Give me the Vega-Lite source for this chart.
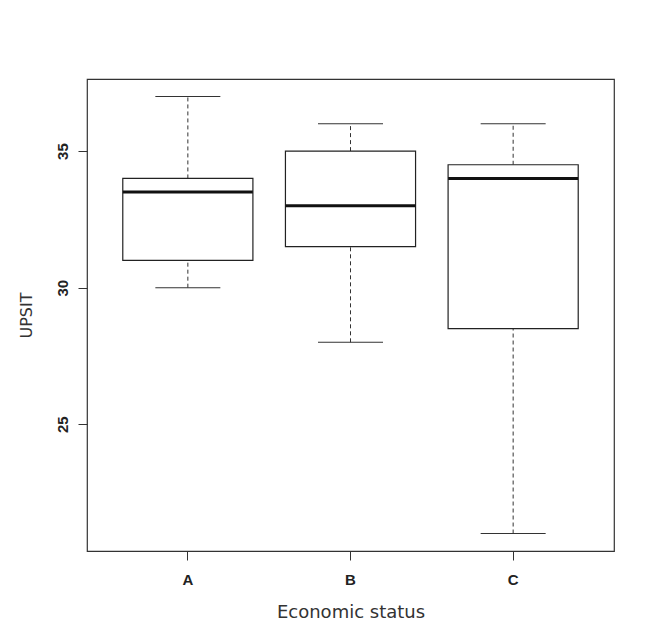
{
  "$schema": "https://vega.github.io/schema/vega-lite/v6.json",
  "autosize": "none",
  "width": 527,
  "height": 472,
  "padding": {"left": 87, "top": 79, "right": 58, "bottom": 86},
  "background": "white",
  "config": {
    "view": {"stroke": "#333", "strokeWidth": 1.2},
    "axis": {"grid": false, "domain": false, "tickColor": "#333", "tickSize": 9, "labelFont": "Liberation Sans", "labelFontWeight": "bold", "labelFontSize": 15, "labelColor": "#222", "titleFont": "DejaVu Sans", "titleFontWeight": "normal", "titleColor": "#333"}
  },
  "data": {
    "values": [
      {"status": "A", "lower": 30, "q1": 31, "median": 33.5, "q3": 34, "upper": 37},
      {"status": "B", "lower": 28, "q1": 31.5, "median": 33, "q3": 35, "upper": 36},
      {"status": "C", "lower": 21, "q1": 28.5, "median": 34, "q3": 34.5, "upper": 36}
    ]
  },
  "encoding": {
    "x": {
      "field": "status", "type": "nominal",
      "scale": {"paddingInner": 0.2, "paddingOuter": 0.22},
      "axis": {"title": "Economic status", "labelAngle": 0, "labelPadding": 12, "titlePadding": 16, "titleFontSize": 18}
    }
  },
  "layer": [
    {
      "mark": {"type": "rule", "strokeDash": [4, 3], "color": "#333", "strokeWidth": 1},
      "encoding": {
        "y": {"field": "lower", "type": "quantitative", "scale": {"domain": [20.36, 37.64], "nice": false, "zero": false},
          "axis": {"title": "UPSIT", "values": [25, 30, 35], "labelAngle": -90, "labelPadding": 8, "titlePadding": 21, "titleFontSize": 16}},
        "y2": {"field": "q1"}
      }
    },
    {
      "mark": {"type": "rule", "strokeDash": [4, 3], "color": "#333", "strokeWidth": 1},
      "encoding": {
        "y": {"field": "q3", "type": "quantitative"},
        "y2": {"field": "upper"}
      }
    },
    {
      "mark": {"type": "tick", "size": 65, "thickness": 1, "color": "#333", "opacity": 1},
      "encoding": {"y": {"field": "lower", "type": "quantitative"}}
    },
    {
      "mark": {"type": "tick", "size": 65, "thickness": 1, "color": "#333", "opacity": 1},
      "encoding": {"y": {"field": "upper", "type": "quantitative"}}
    },
    {
      "mark": {"type": "bar", "fill": "white", "stroke": "#222", "strokeWidth": 1.2},
      "encoding": {
        "y": {"field": "q1", "type": "quantitative"},
        "y2": {"field": "q3"}
      }
    },
    {
      "mark": {"type": "tick", "size": 130, "thickness": 3, "color": "#111", "opacity": 1},
      "encoding": {"y": {"field": "median", "type": "quantitative"}}
    }
  ]
}
